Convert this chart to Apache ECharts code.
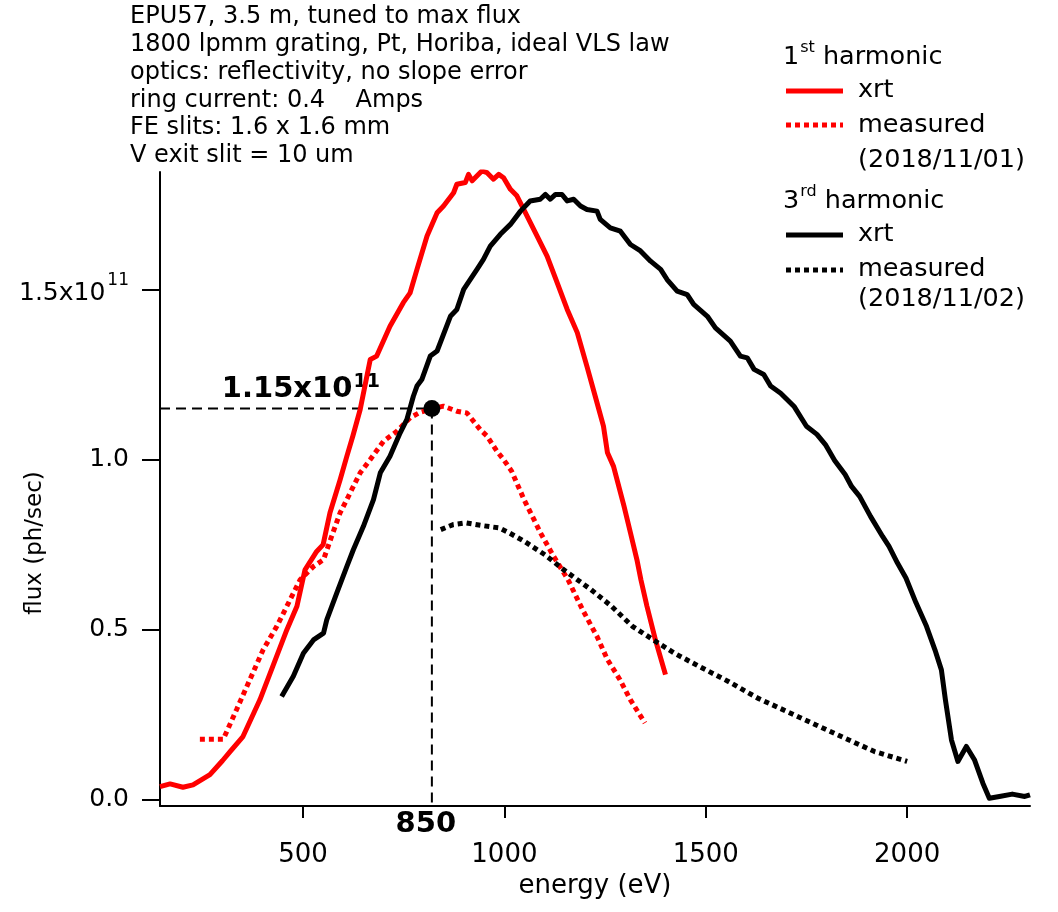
<!DOCTYPE html>
<html><head><meta charset="utf-8">
<script src="https://cdn.jsdelivr.net/npm/echarts@6/dist/echarts.min.js"></script>
<style>html,body{margin:0;padding:0;background:#fff}#c{width:1058px;height:912px}</style>
</head><body><div id="c"></div>
<script>
// ---- data (flux in units of 1e11 ph/sec, energy in eV) ----
const xTickValues = [500, 1000, 1500, 2000];
const yTickValues = [0, 0.5, 1.0, 1.5];

const h1XrtE = [145,170,202,227,269,300,319,351,393,425,460,485,505,534,550,567,592,609,624,642,667,683,716,749,766,783,808,833,849,874,882,903,911,920,944,957,973,986,998,1015,1031,1048,1081,1106,1131,1156,1181,1205,1230,1246,1256,1271,1297,1313,1329,1339,1354,1375,1400];
const h1XrtF = [0.039,0.047,0.037,0.044,0.074,0.115,0.142,0.186,0.294,0.392,0.5,0.569,0.676,0.73,0.75,0.844,0.94,1.01,1.07,1.147,1.294,1.304,1.392,1.461,1.49,1.559,1.657,1.725,1.745,1.784,1.809,1.814,1.838,1.819,1.848,1.843,1.824,1.838,1.828,1.794,1.775,1.735,1.657,1.598,1.52,1.441,1.373,1.274,1.167,1.098,1.02,0.98,0.863,0.785,0.706,0.647,0.569,0.47,0.368];

const h1MeasE = [244,302,335,368,401,435,468,493,526,551,571,592,617,642,667,700,733,766,791,820,849,882,907,940,957,982,998,1018,1049,1090,1122,1158,1194,1230,1256,1287,1313,1349];
const h1MeasF = [0.178,0.178,0.265,0.353,0.441,0.51,0.588,0.647,0.686,0.706,0.774,0.843,0.902,0.961,1.0,1.054,1.083,1.123,1.139,1.149,1.157,1.142,1.137,1.088,1.069,1.024,1.0,0.966,0.882,0.784,0.716,0.647,0.559,0.48,0.412,0.353,0.294,0.226];

const h3XrtE = [447,476,501,526,551,559,584,609,625,650,675,692,716,741,758,774,783,795,816,833,866,882,899,932,948,965,990,1015,1040,1064,1089,1102,1114,1127,1143,1156,1172,1189,1205,1230,1238,1263,1288,1313,1338,1363,1388,1404,1429,1454,1470,1504,1524,1561,1586,1603,1620,1644,1661,1686,1720,1750,1776,1797,1820,1846,1862,1882,1909,1939,1955,1976,1997,2022,2048,2069,2085,2095,2110,2126,2147,2167,2188,2204,2229,2261,2292,2305];
const h3XrtF = [0.304,0.363,0.431,0.47,0.49,0.529,0.608,0.686,0.735,0.804,0.882,0.961,1.01,1.078,1.118,1.186,1.216,1.235,1.304,1.319,1.421,1.441,1.5,1.559,1.588,1.627,1.662,1.691,1.73,1.76,1.765,1.779,1.765,1.779,1.779,1.76,1.765,1.745,1.735,1.73,1.706,1.681,1.671,1.632,1.613,1.583,1.559,1.529,1.495,1.485,1.456,1.421,1.387,1.348,1.304,1.299,1.265,1.25,1.216,1.195,1.155,1.098,1.074,1.044,0.997,0.956,0.921,0.892,0.833,0.774,0.745,0.696,0.652,0.579,0.51,0.441,0.382,0.294,0.176,0.113,0.157,0.118,0.049,0.005,0.01,0.017,0.01,0.015];

const h3MeasE = [842,873,904,945,987,1013,1049,1101,1153,1215,1266,1318,1370,1422,1484,1556,1629,1701,1774,1846,1919,2000];
const h3MeasF = [0.794,0.809,0.814,0.806,0.799,0.784,0.76,0.72,0.671,0.618,0.569,0.51,0.47,0.431,0.392,0.348,0.299,0.26,0.22,0.181,0.142,0.113];

const markerE = [820];
const markerF = [1.15];
const markerValueLabel = ['1.15x10', '11'];
const markerEnergyLabel = ['850'];

const infoLines = [
  'EPU57, 3.5 m, tuned to max flux',
  '1800 lpmm grating, Pt, Horiba, ideal VLS law',
  'optics: reflectivity, no slope error',
  'ring current: 0.4    Amps',
  'FE slits: 1.6 x 1.6 mm',
  'V exit slit = 10 um'
];

const X_MIN = 145, X_MAX = 2305, Y_MIN = -0.018, Y_MAX = 1.845;
const FONT = 'DejaVu Sans';

const zip = (a, b) => a.map((v, i) => [v, b[i]]);

const chart = echarts.init(document.getElementById('c'), null, {renderer: 'canvas'});

const option = {
  backgroundColor: '#fff',
  animation: false,
  grid: {left: 160, right: 28, top: 172, bottom: 106, containLabel: false},
  xAxis: {
    type: 'value', min: X_MIN, max: X_MAX,
    name: 'energy (eV)', nameLocation: 'middle', nameGap: 63,
    nameTextStyle: {fontFamily: FONT, fontSize: 26, color: '#000'},
    axisLine: {onZero: false, lineStyle: {color: '#000', width: 2}},
    axisTick: {show: true, inside: false, length: 12, customValues: xTickValues, lineStyle: {color: '#000', width: 2}},
    axisLabel: {customValues: xTickValues, margin: 36, fontFamily: FONT, fontSize: 26, color: '#000',
      formatter: v => String(v)},
    splitLine: {show: false}
  },
  yAxis: {
    type: 'value', min: Y_MIN, max: Y_MAX,
    axisLine: {show: true, onZero: false, lineStyle: {color: '#000', width: 2}},
    axisTick: {show: true, inside: false, length: 18, customValues: yTickValues, lineStyle: {color: '#000', width: 2}},
    axisLabel: {
      customValues: yTickValues, margin: 31, fontFamily: FONT, fontSize: 25, color: '#000',
      formatter: v => (Math.abs(v - 1.5) < 1e-9 ? '{b|1.5x10}{s|11}' : '{b|' + v.toFixed(1) + '}'),
      rich: {
        b: {fontFamily: FONT, fontSize: 25, color: '#000', verticalAlign: 'bottom'},
        s: {fontFamily: FONT, fontSize: 17, color: '#000', verticalAlign: 'bottom', padding: [0, 0, 17, 2]}
      }
    },
    splitLine: {show: false}
  },
  series: [
    {
      name: 'ref-h', type: 'line', silent: true, showSymbol: false, z: 1,
      data: [[X_MIN, markerF[0]], [markerE[0], markerF[0]]],
      lineStyle: {color: '#000', width: 2, type: [10, 6]}
    },
    {
      name: 'ref-v', type: 'line', silent: true, showSymbol: false, z: 1,
      data: [[markerE[0], markerF[0]], [markerE[0], Y_MIN]],
      lineStyle: {color: '#000', width: 2, type: [10, 6]}
    },
    {
      name: '1st xrt', type: 'line', showSymbol: false, z: 3,
      data: zip(h1XrtE, h1XrtF),
      lineStyle: {color: '#ff0000', width: 5, join: 'round'}
    },
    {
      name: '1st measured', type: 'line', showSymbol: false, z: 3,
      data: zip(h1MeasE, h1MeasF),
      lineStyle: {color: '#ff0000', width: 5, type: [5, 4], cap: 'butt'}
    },
    {
      name: '3rd xrt', type: 'line', showSymbol: false, z: 3,
      data: zip(h3XrtE, h3XrtF),
      lineStyle: {color: '#000', width: 5, join: 'round'}
    },
    {
      name: '3rd measured', type: 'line', showSymbol: false, z: 3,
      data: zip(h3MeasE, h3MeasF),
      lineStyle: {color: '#000', width: 5, type: [5, 4], cap: 'butt'}
    },
    {
      name: 'marker', type: 'scatter', z: 5, symbolSize: 17,
      itemStyle: {color: '#000', opacity: 1},
      data: zip(markerE, markerF)
    }
  ]
};
chart.setOption(option);

// annotations positioned from the data through the chart's own scales
const pMarker = chart.convertToPixel({gridIndex: 0}, [markerE[0], markerF[0]]);
const pAxisBottom = chart.convertToPixel({gridIndex: 0}, [markerE[0], Y_MIN]);

const legendX = 783, lineX1 = 786, lineX2 = 843, textX = 858, LF = 25.5;
const gText = (text, x, y, size, extra) => Object.assign({
  type: 'text', x: x, y: y,
  style: Object.assign({text: text, fontFamily: FONT, fontSize: size, fill: '#000', verticalAlign: 'middle'}, extra || {})
});
const gLine = (y, color, dash) => ({
  type: 'line', shape: {x1: lineX1, y1: y, x2: lineX2, y2: y},
  style: {stroke: color, lineWidth: 5, lineDash: dash || null, lineCap: 'butt'}
});
const headRich = {
  n: {fontFamily: FONT, fontSize: LF, fill: '#000', verticalAlign: 'bottom'},
  s: {fontFamily: FONT, fontSize: 16, fill: '#000', verticalAlign: 'bottom', padding: [0, 0, 15, 1]}
};

chart.setOption({
  graphic: [
    {type: 'text', x: 130, y: 3, style: {text: infoLines.join('\n'), fontFamily: FONT, fontSize: 24, lineHeight: 27.8, fill: '#000'}},
    {type: 'text', x: 35, y: 543, rotation: Math.PI / 2,
      style: {text: 'flux (ph/sec)', fontFamily: FONT, fontSize: 23, fill: '#000', align: 'center', verticalAlign: 'middle'}},
    // legend
    {type: 'text', x: legendX, y: 55, style: {text: '{n|1}{s|st}{n| harmonic}', rich: headRich, verticalAlign: 'middle'}},
    gLine(91, '#ff0000'),
    gText('xrt', textX, 90, LF),
    gLine(125, '#ff0000', [5, 4]),
    gText('measured', textX, 125, LF),
    gText('(2018/11/01)', textX, 160, LF),
    {type: 'text', x: legendX, y: 199, style: {text: '{n|3}{s|rd}{n| harmonic}', rich: headRich, verticalAlign: 'middle'}},
    gLine(235, '#000'),
    gText('xrt', textX, 234, LF),
    gLine(270, '#000', [5, 4]),
    gText('measured', textX, 269, LF),
    gText('(2018/11/02)', textX, 299, LF),
    // marker annotations
    {type: 'text', x: pMarker[0] - 52, y: pMarker[1] - 5,
      style: {text: '{b|' + markerValueLabel[0] + '}{s|' + markerValueLabel[1] + '}', align: 'right', verticalAlign: 'bottom',
        rich: {
          b: {fontFamily: FONT, fontSize: 29, fontWeight: 'bold', fill: '#000', verticalAlign: 'bottom'},
          s: {fontFamily: FONT, fontSize: 19, fontWeight: 'bold', fill: '#000', verticalAlign: 'bottom', padding: [0, 0, 12, 1]}
        }}},
    {type: 'text', x: pAxisBottom[0] - 6, y: 824,
      style: {text: markerEnergyLabel[0], fontFamily: FONT, fontSize: 29, fontWeight: 'bold', fill: '#000', align: 'center', verticalAlign: 'middle'}}
  ]
});
</script>
</body></html>
